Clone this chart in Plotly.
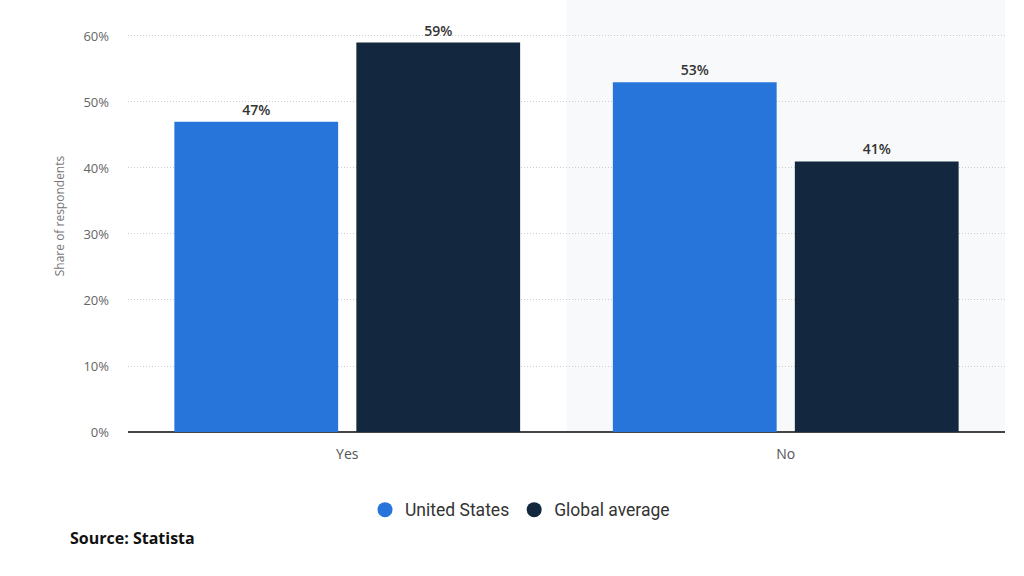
import plotly.graph_objects as go

categories = ["Yes", "No"]
us_values = [47, 53]
global_values = [59, 41]
series_names = ["United States", "Global average"]
y_ticks = [0, 10, 20, 30, 40, 50, 60]
y_tick_labels = ["0%", "10%", "20%", "30%", "40%", "50%", "60%"]

US_COLOR = "#2775db"
GL_COLOR = "#13283f"

fig = go.Figure()
for name, vals, col in [(series_names[0], us_values, US_COLOR), (series_names[1], global_values, GL_COLOR)]:
    fig.add_trace(go.Bar(
        x=categories, y=vals, name=name, marker=dict(color=col, line=dict(width=0)),
        text=[f"{v}%" for v in vals], textposition="outside",
        textfont=dict(family="Open Sans", size=14, color="#333333", weight=600),
        showlegend=False, cliponaxis=False,
    ))
    fig.add_trace(go.Scatter(
        x=[None], y=[None], mode="markers", name=name,
        marker=dict(symbol="circle", size=15, color=col),
    ))

fig.add_shape(type="rect", xref="x", yref="paper", x0=0.5, x1=1.5, y0=0, y1=1,
              fillcolor="#f8f9fa", line=dict(width=0), layer="below")

fig.update_layout(
    width=1024, height=576,
    margin=dict(l=128, r=19, t=0, b=144),
    paper_bgcolor="white", plot_bgcolor="white",
    barmode="group", bargap=0.17, bargroupgap=0.1,
    font=dict(family="Open Sans", color="#666666"),
    xaxis=dict(range=[-0.5, 1.5], showgrid=False, zeroline=False,
               showline=False, ticks="",
               tickfont=dict(size=14, color="#555555"), ticklabelstandoff=12),
    yaxis=dict(range=[0, 65.45], tickvals=y_ticks, ticktext=y_tick_labels,
               showgrid=True, gridcolor="#cccccc", griddash="1px,2px", gridwidth=1,
               zeroline=True, zerolinecolor="#444444", zerolinewidth=1.5,
               tickfont=dict(size=13, color="#666666"), ticklabelstandoff=18,
               title=dict(text="Share of respondents", font=dict(size=12, color="#777777"), standoff=16)),
    legend=dict(orientation="h", x=0.447, xanchor="center", y=-0.18, yanchor="middle",
                font=dict(family="Roboto", size=17.5, color="#333333"), itemwidth=30,
                traceorder="normal"),
    annotations=[dict(text="<b>Source: Statista</b>", xref="paper", yref="paper",
                      x=(68 - 128) / 877, y=(432 - 538) / 432, xanchor="left", yanchor="middle",
                      showarrow=False, font=dict(family="Open Sans", size=16, color="#111111"))],
)

fig.write_html("out.html", post_script="document.body.style.margin='0';",
               config={"displayModeBar": False})
